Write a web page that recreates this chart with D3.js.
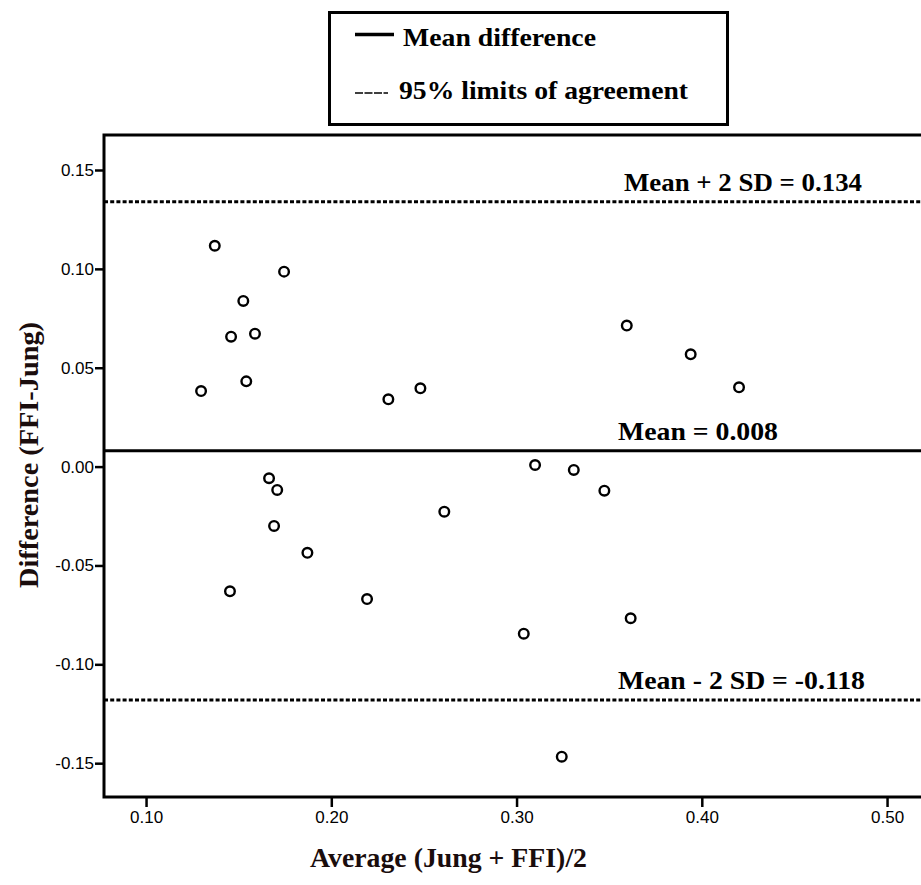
<!DOCTYPE html>
<html>
<head>
<meta charset="utf-8">
<script src="https://cdn.jsdelivr.net/npm/d3@7"></script>
<style>
  body { margin: 0; background: #fff; }
  svg { display: block; }
</style>
</head>
<body>
<svg id="chart"></svg>
<script>
// Bland-Altman data
const avgValues = [0.1297, 0.1371, 0.1525, 0.1459, 0.1588, 0.1541, 0.1745, 0.2308, 0.2481,
    0.3595, 0.3940, 0.4201, 0.1664, 0.1708, 0.1691, 0.1871, 0.1453, 0.2193, 0.2610,
    0.3100, 0.3309, 0.3474, 0.3039, 0.3616, 0.3244];
const diffValues = [0.0382, 0.1117, 0.0838, 0.0657, 0.0672, 0.0431, 0.0986, 0.0340, 0.0396,
    0.0713, 0.0568, 0.0401, -0.0059, -0.0118, -0.0300, -0.0436, -0.0631, -0.0670, -0.0228,
    0.0008, -0.0017, -0.0122, -0.0845, -0.0767, -0.1467];

const meanDiff = 0.008;
const upperLimit = 0.134;
const lowerLimit = -0.118;

const xTicks = [0.10, 0.20, 0.30, 0.40, 0.50];
const yTicks = [-0.15, -0.10, -0.05, 0.00, 0.05, 0.10, 0.15];

const refLines = [
    {value: upperLimit, label: "Mean + 2 SD = 0.134", dashed: true, x0: 624, len: 238},
    {value: meanDiff, label: "Mean = 0.008", dashed: false, x0: 618, len: 160},
    {value: lowerLimit, label: "Mean - 2 SD = -0.118", dashed: true, x0: 618, len: 247}
];

const WIDTH = 921, HEIGHT = 885;
const serif = "'Liberation Serif', 'Times New Roman', serif";
const sans = "'Liberation Sans', Arial, sans-serif";

const svg = d3.select("#chart")
    .attr("width", WIDTH)
    .attr("height", HEIGHT);

const xScale = d3.scaleLinear()
    .domain([0.0773, 0.53])
    .range([104, 104 + (0.53 - 0.0773) * 1852.5]);

const yScale = d3.scaleLinear()
    .domain([-0.1671, 0.1677])
    .range([797, 135]);

const [xLeft, xRight] = xScale.range();

// frame (right side runs off the picture)
svg.append("rect")
    .attr("x", xLeft)
    .attr("y", yScale.range()[1])
    .attr("width", xRight - xLeft)
    .attr("height", yScale.range()[0] - yScale.range()[1])
    .style("fill", "none")
    .style("stroke", "#000")
    .style("stroke-width", 3);

// axes
const yAxis = svg.append("g")
    .attr("transform", `translate(${xLeft},0)`)
    .call(d3.axisLeft(yScale)
        .tickValues(yTicks)
        .tickFormat(d => d.toFixed(2))
        .tickSize(9)
        .tickPadding(1));

const xAxis = svg.append("g")
    .attr("transform", `translate(0,${yScale.range()[0]})`)
    .call(d3.axisBottom(xScale)
        .tickValues(xTicks)
        .tickFormat(d => d.toFixed(2))
        .tickSize(10)
        .tickPadding(4));

[xAxis, yAxis].forEach(ax => {
    ax.select(".domain").remove();
    ax.selectAll(".tick line").style("stroke", "#000").style("stroke-width", 2.5);
    ax.selectAll(".tick text")
        .style("font-family", sans)
        .style("font-size", "17px")
        .style("fill", "#000");
});

// reference lines + labels
svg.selectAll("line.ref")
    .data(refLines)
    .enter()
    .append("line")
    .attr("class", "ref")
    .attr("x1", xLeft)
    .attr("x2", xRight)
    .attr("y1", d => yScale(d.value))
    .attr("y2", d => yScale(d.value))
    .style("stroke", "#000")
    .style("stroke-width", 3)
    .style("stroke-dasharray", d => d.dashed ? "4,2.2" : null);

svg.selectAll("text.ref")
    .data(refLines)
    .enter()
    .append("text")
    .attr("class", "ref")
    .attr("x", d => d.x0)
    .attr("y", d => yScale(d.value) - 11)
    .attr("textLength", d => d.len)
    .attr("lengthAdjust", "spacingAndGlyphs")
    .style("font-family", serif)
    .style("font-weight", "bold")
    .style("font-size", "26px")
    .text(d => d.label);

// points
svg.selectAll("circle")
    .data(d3.zip(avgValues, diffValues))
    .enter()
    .append("circle")
    .attr("cx", ([x, y]) => xScale(x))
    .attr("cy", ([x, y]) => yScale(y))
    .attr("r", 4.8)
    .style("fill", "#fff")
    .style("stroke", "#000")
    .style("stroke-width", 2.4);

// axis titles
svg.append("text")
    .attr("transform", "translate(38,455) rotate(-90)")
    .attr("text-anchor", "middle")
    .attr("textLength", 266)
    .attr("lengthAdjust", "spacingAndGlyphs")
    .style("font-family", serif)
    .style("font-weight", "bold")
    .style("font-size", "28px")
    .style("fill", "#1a0d0d")
    .text("Difference (FFI-Jung)");

svg.append("text")
    .attr("x", 310)
    .attr("y", 867)
    .attr("textLength", 277)
    .attr("lengthAdjust", "spacingAndGlyphs")
    .style("font-family", serif)
    .style("font-weight", "bold")
    .style("font-size", "28px")
    .style("fill", "#1a0d0d")
    .text("Average (Jung + FFI)/2");

// legend
const legend = svg.append("g");
legend.append("rect")
    .attr("x", 329.5)
    .attr("y", 12.5)
    .attr("width", 398)
    .attr("height", 112)
    .style("fill", "#fff")
    .style("stroke", "#000")
    .style("stroke-width", 3);

legend.append("line")
    .attr("x1", 355).attr("x2", 394)
    .attr("y1", 34.5).attr("y2", 34.5)
    .style("stroke", "#000")
    .style("stroke-width", 3.5);

legend.append("line")
    .attr("x1", 355).attr("x2", 388)
    .attr("y1", 93).attr("y2", 93)
    .style("stroke", "#000")
    .style("stroke-width", 1.3)
    .style("stroke-dasharray", "8,1.5");

legend.selectAll("text")
    .data([
        {label: "Mean difference", x: 403, y: 46, len: 193},
        {label: "95% limits of agreement", x: 399, y: 99, len: 289}
    ])
    .enter()
    .append("text")
    .attr("x", d => d.x)
    .attr("y", d => d.y)
    .attr("textLength", d => d.len)
    .attr("lengthAdjust", "spacingAndGlyphs")
    .style("font-family", serif)
    .style("font-weight", "bold")
    .style("font-size", "26px")
    .text(d => d.label);
</script>
</body>
</html>
